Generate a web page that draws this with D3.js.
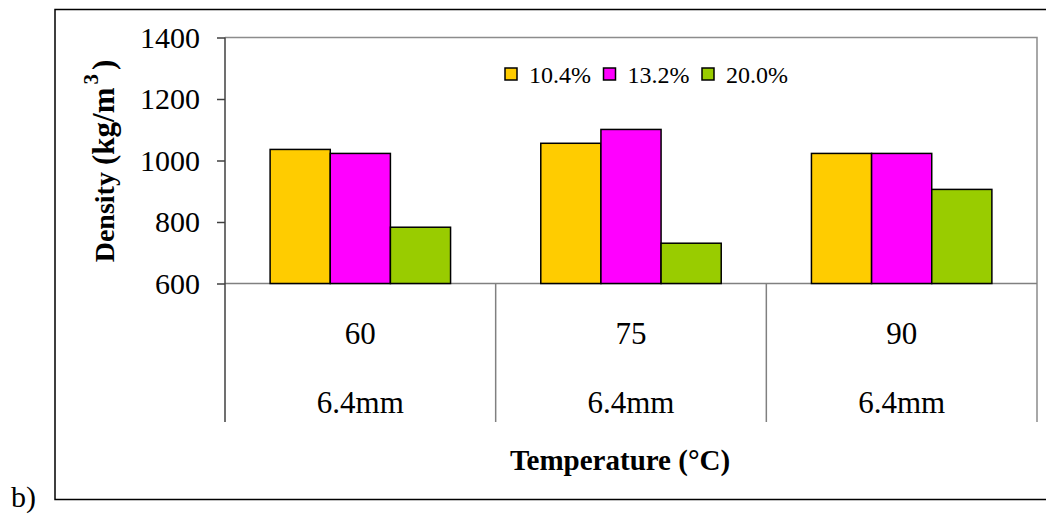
<!DOCTYPE html>
<html>
<head>
<meta charset="utf-8">
<script src="https://cdn.jsdelivr.net/npm/d3@7"></script>
<style>
  html, body { margin: 0; padding: 0; background: #fff; }
  svg text { font-family: "Liberation Serif", "Times New Roman", serif; fill: #000; }
</style>
</head>
<body>
<svg id="chart" width="1046" height="516"></svg>
<script>
// Temperatures along the x axis and the particle size shown beneath each one
const temperatures = ["60", "75", "90"];
const particleSizes = ["6.4mm", "6.4mm", "6.4mm"];

// Moisture content series and their densities (kg/m3) at each temperature
const seriesNames = ["10.4%", "13.2%", "20.0%"];
const density104 = [1036, 1056, 1023];
const density132 = [1023, 1101, 1023];
const density200 = [783, 731, 906];
const seriesColors = ["#FFCC00", "#FF00FF", "#99CC00"];

const yTicks = [600, 800, 1000, 1200, 1400];

const SERIF = "Liberation Serif, Times New Roman, serif";
const svg = d3.select("#chart");

const plot = { left: 225, right: 1037, top: 37.5, bottom: 283.5, catBottom: 422 };

const y = d3.scaleLinear().domain([600, 1400]).range([plot.bottom, plot.top]);
const x0 = d3.scaleBand().domain(temperatures).range([plot.left, plot.right]).padding(0);
const bw = x0.bandwidth();
const x1 = d3.scaleBand().domain(seriesNames).range([bw / 6, bw * 5 / 6]).padding(0);

const seriesValues = [density104, density132, density200];
const rows = temperatures.map((t, i) => ({
  t,
  values: seriesNames.map((s, j) => ({ s, v: seriesValues[j][i], c: seriesColors[j] }))
}));

// Outer frame of the figure
svg.append("rect")
  .attr("x", 55).attr("y", 9.5).attr("width", 1000).attr("height", 490)
  .attr("fill", "none").attr("stroke", "#000").attr("stroke-width", 1.5);

// Panel letter
svg.append("text").attr("x", 11).attr("y", 507)
  .attr("font-family", SERIF).attr("font-size", 30).text("b)");

// Plot area top and right border
svg.append("path")
  .attr("d", `M${plot.left},${plot.top}H${plot.right}V${plot.catBottom}`)
  .attr("fill", "none").attr("stroke", "#8c8c8c").attr("stroke-width", 1.5);

// Category axis: baseline and separators extending down through the labels
svg.append("line")
  .attr("x1", plot.left).attr("x2", plot.right)
  .attr("y1", plot.bottom).attr("y2", plot.bottom)
  .attr("stroke", "#808080").attr("stroke-width", 1.5);

const seps = temperatures.map(t => x0(t)).slice(1);
svg.selectAll("line.sep").data(seps).join("line")
  .attr("class", "sep")
  .attr("x1", d => d).attr("x2", d => d)
  .attr("y1", plot.bottom).attr("y2", plot.catBottom)
  .attr("stroke", "#808080").attr("stroke-width", 1.5);

svg.selectAll("text.temp").data(temperatures).join("text")
  .attr("class", "temp")
  .attr("x", d => x0(d) + bw / 2).attr("y", 344)
  .attr("text-anchor", "middle").attr("font-family", SERIF).attr("font-size", 31).text(d => d);

svg.selectAll("text.size").data(particleSizes).join("text")
  .attr("class", "size")
  .attr("x", (d, i) => x0(temperatures[i]) + bw / 2).attr("y", 413)
  .attr("text-anchor", "middle").attr("font-family", SERIF).attr("font-size", 31).text(d => d);

// Bars
const groups = svg.selectAll("g.grp").data(rows).join("g")
  .attr("class", "grp")
  .attr("transform", d => `translate(${x0(d.t)},0)`);

groups.selectAll("rect").data(d => d.values).join("rect")
  .attr("x", d => x1(d.s))
  .attr("y", d => y(d.v))
  .attr("width", x1.bandwidth())
  .attr("height", d => y(600) - y(d.v))
  .attr("fill", d => d.c)
  .attr("stroke", "#000").attr("stroke-width", 1.5);

// Value axis
const yAxis = svg.append("g")
  .attr("transform", `translate(${plot.left},0)`)
  .call(d3.axisLeft(y).tickValues(yTicks).tickFormat(d3.format("d")).tickSize(8).tickPadding(17).tickSizeOuter(0));
yAxis.attr("font-family", SERIF);
yAxis.select(".domain").remove();
yAxis.selectAll(".tick line").attr("stroke", "#404040").attr("stroke-width", 1.5);
yAxis.selectAll(".tick text")
  .attr("font-family", SERIF)
  .attr("font-size", 30).attr("fill", "#000");

svg.append("line")
  .attr("x1", plot.left).attr("x2", plot.left)
  .attr("y1", plot.top).attr("y2", plot.catBottom)
  .attr("stroke", "#404040").attr("stroke-width", 1.5);

// Axis titles
const yTitle = svg.append("text")
  .attr("transform", "translate(114,161) rotate(-90)")
  .attr("text-anchor", "middle").attr("font-family", SERIF)
  .attr("font-weight", "bold").attr("font-size", 28);
yTitle.append("tspan").text("Density ");
yTitle.append("tspan").attr("font-size", 31).text("(kg/m");
yTitle.append("tspan").attr("font-size", 21).attr("dx", 3).attr("baseline-shift", "75%").text("3");
yTitle.append("tspan").attr("font-size", 31).attr("dx", 4).text(")");

svg.append("text")
  .attr("x", 620).attr("y", 470)
  .attr("text-anchor", "middle").attr("font-family", SERIF)
  .attr("font-weight", "bold").attr("font-size", 29)
  .text("Temperature (°C)");

// Legend
const legendX = [505, 603.5, 702];
const legend = svg.selectAll("g.leg").data(seriesNames).join("g")
  .attr("class", "leg")
  .attr("transform", (d, i) => `translate(${legendX[i]},68)`);
legend.append("rect")
  .attr("width", 12).attr("height", 12)
  .attr("fill", (d, i) => seriesColors[i])
  .attr("stroke", "#000").attr("stroke-width", 1.5);
legend.append("text")
  .attr("x", 24).attr("y", 15)
  .attr("font-family", SERIF).attr("font-size", 24).text(d => d);
</script>
</body>
</html>
